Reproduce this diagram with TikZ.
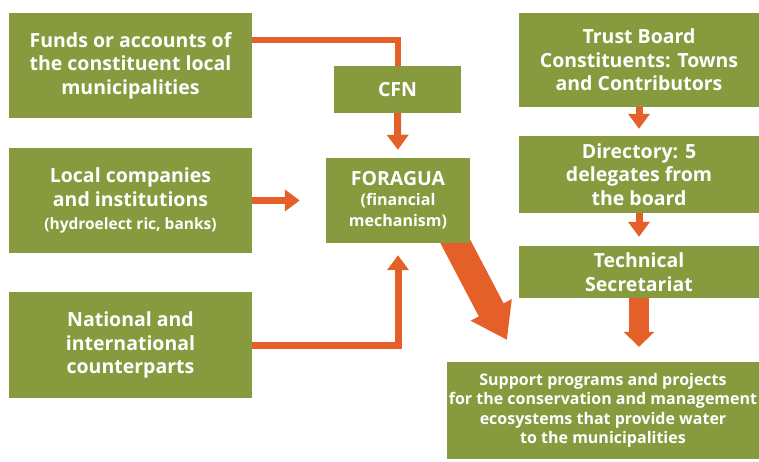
\documentclass[tikz,border=0pt]{standalone}
\usepackage{fontspec}
\setmainfont{Open Sans}
\usetikzlibrary{arrows.meta,backgrounds}

\definecolor{boxgreen}{RGB}{136,154,62}
\definecolor{floworange}{RGB}{228,96,40}

\newcommand{\subfont}{\fontsize{16}{18}\selectfont}

\tikzset{
  box/.style = {fill=boxgreen, text=white, align=center, inner sep=0pt,
                font=\bfseries\fontsize{19.5}{23.5}\selectfont},
  flow/.style = {draw=floworange, line width=7pt},
  flowtip/.style = {flow, -{Triangle[width=21pt,length=15pt]}},
  bigtip/.style = {draw=floworange, line width=28pt, -{Triangle[width=44pt,length=34pt]}},
}

\begin{document}
\begin{tikzpicture}[x = 1pt, y = -1pt]
\useasboundingbox (0,0) rectangle (759,462);

% sources on the left
\node[box, minimum width=243pt, minimum height=105pt] (funds) at (130.5,65.5)
  {Funds or accounts of\\the constituent local\\municipalities};
\node[box, minimum width=243pt, minimum height=105pt] (local) at (130.5,200.5)
  {Local companies\\and institutions\\\fontsize{15.5}{19}\selectfont (hydroelect ric, banks)};
\node[box, minimum width=243pt, minimum height=106pt] (national) at (130.5,345)
  {National and\\international\\counterparts};

% the mechanism
\node[box, minimum width=127pt, minimum height=47pt] (cfn) at (397.5,89.5) {CFN};
\node[box, minimum width=144pt, minimum height=85pt] (foragua) at (398,200.5)
  {FORAGUA\\[-4pt]\subfont (financial\\[-2pt]\subfont mechanism)};

% governance chain
\node[box, minimum width=240pt, minimum height=94pt] (trust) at (639,60)
  {Trust Board\\Constituents: Towns\\and Contributors};
\node[box, minimum width=240pt, minimum height=77pt] (directory) at (639,174.5)
  {Directory: 5\\delegates from\\the board};
\node[box, minimum width=240pt, minimum height=52pt] (technical) at (639,272)
  {Technical\\Secretariat};
\node[box, minimum width=312pt, minimum height=97pt, font=\bfseries\fontsize{16}{19.5}\selectfont] (support) at (603,410.5)
  {Support programs and projects\\for the conservation and management\\ecosystems that provide water\\to the municipalities};

\coordinate (bigend) at (507,340);

\begin{scope}[on background layer]
\draw[flow, line width=6pt] ([yshift=25.5pt]funds.east) -| (cfn.north);
\draw[flowtip, shorten >=8pt] (cfn.south) -- (foragua.north);
\draw[flowtip, shorten >=26pt] (local.east) -- (local.east -| foragua.west);
\draw[flowtip, shorten >=12pt] (national.east) -| (foragua.south);
\draw[bigtip] ([xshift=53pt, yshift=10pt]foragua.south) -- (bigend);
\draw[flowtip, shorten >=7pt] (trust.south) -- (directory.north);
\draw[flowtip, shorten >=9pt] (directory.south) -- (technical.north);
\draw[draw=floworange, line width=20pt, -{Triangle[width=30pt,length=15pt]}, shorten >=15pt]
  (technical.south) -- (technical.south |- support.north);
\end{scope}
\end{tikzpicture}
\end{document}
